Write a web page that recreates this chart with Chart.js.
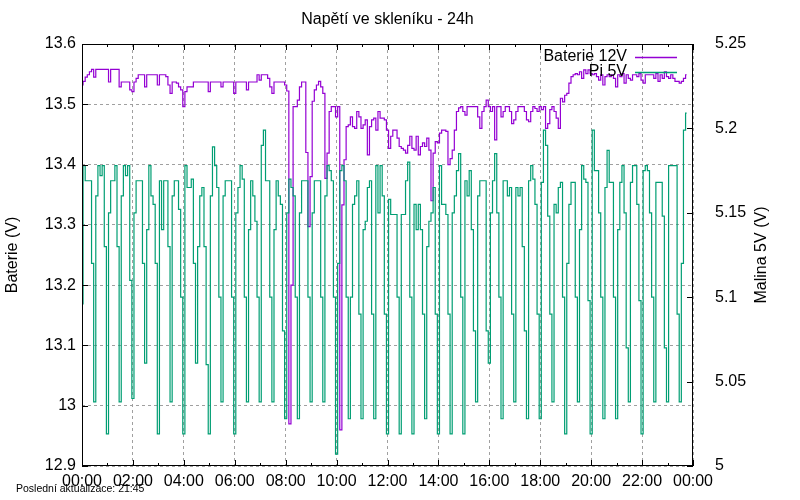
<!DOCTYPE html>
<html>
<head>
<meta charset="utf-8">
<script src="https://cdn.jsdelivr.net/npm/chart.js@4"></script>
<style>
  html, body { margin: 0; padding: 0; background: #fff; }
  #wrap { width: 800px; height: 500px; }
</style>
</head>
<body>
<div id="wrap"><canvas id="chart" width="800" height="500"></canvas></div>
<script>
// samples every 5 minutes, 00:00 .. 23:45
const STEP_MIN = 5;

// Baterie 12V (left axis), one row per hour
const baterie = [
    13.532, 13.538, 13.545, 13.549, 13.554, 13.558, 13.545, 13.558, 13.558, 13.558, 13.558, 13.558,
    13.558, 13.537, 13.558, 13.558, 13.558, 13.558, 13.529, 13.537, 13.537, 13.537, 13.537, 13.524,
    13.521, 13.537, 13.543, 13.549, 13.549, 13.549, 13.529, 13.549, 13.549, 13.549, 13.549, 13.549,
    13.532, 13.549, 13.549, 13.549, 13.546, 13.532, 13.518, 13.537, 13.537, 13.535, 13.529, 13.524,
    13.496, 13.521, 13.529, 13.529, 13.529, 13.537, 13.537, 13.537, 13.537, 13.537, 13.537, 13.537,
    13.521, 13.537, 13.537, 13.537, 13.537, 13.537, 13.529, 13.537, 13.537, 13.537, 13.537, 13.537,
    13.518, 13.537, 13.537, 13.537, 13.537, 13.537, 13.524, 13.537, 13.537, 13.537, 13.537, 13.549,
    13.540, 13.549, 13.549, 13.549, 13.543, 13.529, 13.518, 13.537, 13.537, 13.537, 13.537, 13.537,
    13.532, 13.522, 12.970, 13.200, 13.496, 13.496, 13.507, 13.529, 13.537, 13.537, 13.420, 13.297,
    13.380, 13.505, 13.524, 13.532, 13.538, 13.529, 13.518, 13.377, 13.419, 13.488, 13.496, 13.496,
    13.479, 13.496, 12.960, 13.333, 13.408, 13.463, 13.466, 13.479, 13.463, 13.460, 13.488, 13.479,
    13.460, 13.466, 13.474, 13.416, 13.463, 13.474, 13.477, 13.457, 13.488, 13.477, 13.477, 13.474,
    13.457, 13.427, 13.447, 13.457, 13.457, 13.444, 13.430, 13.427, 13.424, 13.419, 13.432, 13.447,
    13.427, 13.424, 13.447, 13.416, 13.430, 13.436, 13.430, 13.444, 13.424, 13.340, 13.419, 13.438,
    13.436, 13.452, 13.457, 13.457, 13.455, 13.400, 13.410, 13.424, 13.457, 13.488, 13.494, 13.496,
    13.488, 13.482, 13.496, 13.496, 13.496, 13.496, 13.496, 13.479, 13.460, 13.488, 13.496, 13.507,
    13.496, 13.488, 13.496, 13.441, 13.496, 13.496, 13.479, 13.488, 13.496, 13.496, 13.488, 13.468,
    13.474, 13.488, 13.496, 13.496, 13.496, 13.488, 13.474, 13.471, 13.488, 13.496, 13.493, 13.488,
    13.496, 13.491, 13.496, 13.460, 13.468, 13.491, 13.496, 13.488, 13.477, 13.460, 13.510, 13.504,
    13.515, 13.518, 13.535, 13.546, 13.549, 13.551, 13.549, 13.554, 13.543, 13.557, 13.551, 13.557,
    13.551, 13.549, 13.551, 13.546, 13.540, 13.549, 13.532, 13.546, 13.549, 13.546, 13.549, 13.543,
    13.529, 13.549, 13.546, 13.551, 13.535, 13.549, 13.543, 13.540, 13.549, 13.549, 13.546, 13.551,
    13.540, 13.535, 13.549, 13.549, 13.549, 13.549, 13.543, 13.551, 13.538, 13.549, 13.543, 13.554,
    13.546, 13.543, 13.549, 13.543, 13.538, 13.538, 13.535, 13.538, 13.543, 13.549
];

// Pi 5V (right axis), one row per hour
const pi5v = [
    5.096, 5.178, 5.169, 5.169, 5.169, 5.120, 5.038, 5.160, 5.178, 5.172, 5.178, 5.130,
    5.019, 5.150, 5.169, 5.169, 5.178, 5.130, 5.038, 5.160, 5.178, 5.172, 5.178, 5.110,
    5.040, 5.150, 5.169, 5.169, 5.169, 5.120, 5.061, 5.140, 5.178, 5.160, 5.155, 5.120,
    5.019, 5.169, 5.140, 5.169, 5.169, 5.130, 5.038, 5.160, 5.169, 5.169, 5.152, 5.100,
    5.019, 5.178, 5.165, 5.165, 5.170, 5.120, 5.061, 5.130, 5.160, 5.165, 5.130, 5.060,
    5.019, 5.160, 5.189, 5.178, 5.165, 5.100, 5.038, 5.160, 5.169, 5.169, 5.169, 5.100,
    5.019, 5.150, 5.165, 5.178, 5.170, 5.100, 5.038, 5.140, 5.169, 5.160, 5.145, 5.100,
    5.038, 5.190, 5.199, 5.169, 5.169, 5.100, 5.038, 5.140, 5.169, 5.160, 5.155, 5.080,
    5.028, 5.150, 5.170, 5.165, 5.160, 5.100, 5.028, 5.150, 5.169, 5.169, 5.169, 5.100,
    5.038, 5.150, 5.169, 5.169, 5.169, 5.100, 5.038, 5.160, 5.178, 5.175, 5.169, 5.100,
    5.007, 5.120, 5.175, 5.178, 5.169, 5.100, 5.028, 5.100, 5.155, 5.160, 5.169, 5.090,
    5.028, 5.140, 5.145, 5.165, 5.169, 5.090, 5.028, 5.178, 5.150, 5.178, 5.160, 5.090,
    5.019, 5.158, 5.149, 5.149, 5.149, 5.100, 5.019, 5.149, 5.149, 5.169, 5.180, 5.100,
    5.019, 5.155, 5.140, 5.155, 5.140, 5.090, 5.028, 5.130, 5.145, 5.150, 5.165, 5.090,
    5.019, 5.178, 5.155, 5.155, 5.149, 5.090, 5.019, 5.150, 5.160, 5.175, 5.185, 5.100,
    5.019, 5.169, 5.160, 5.175, 5.140, 5.080, 5.038, 5.160, 5.169, 5.169, 5.169, 5.080,
    5.061, 5.150, 5.169, 5.185, 5.150, 5.100, 5.028, 5.169, 5.169, 5.160, 5.165, 5.090,
    5.038, 5.165, 5.160, 5.165, 5.130, 5.080, 5.028, 5.169, 5.178, 5.170, 5.155, 5.090,
    5.028, 5.168, 5.199, 5.190, 5.148, 5.090, 5.038, 5.155, 5.150, 5.165, 5.168, 5.100,
    5.019, 5.120, 5.155, 5.168, 5.168, 5.100, 5.038, 5.140, 5.178, 5.170, 5.168, 5.098,
    5.019, 5.199, 5.175, 5.175, 5.150, 5.100, 5.028, 5.165, 5.187, 5.168, 5.168, 5.100,
    5.028, 5.140, 5.168, 5.178, 5.150, 5.070, 5.038, 5.168, 5.178, 5.178, 5.155, 5.098,
    5.019, 5.175, 5.178, 5.175, 5.150, 5.100, 5.038, 5.168, 5.168, 5.168, 5.148, 5.070,
    5.038, 5.178, 5.178, 5.178, 5.178, 5.090, 5.038, 5.120, 5.199, 5.209
];

// ticks
const hourTicks = [0, 120, 240, 360, 480, 600, 720, 840, 960, 1080, 1200, 1320, 1440];
const minorTicks = [60, 180, 300, 420, 540, 660, 780, 900, 1020, 1140, 1260, 1380];
const leftTicks = [12.9, 13.0, 13.1, 13.2, 13.3, 13.4, 13.5, 13.6];
const rightTicks = [5.0, 5.05, 5.1, 5.15, 5.2, 5.25];

const FONT = "'Liberation Sans', Arial, sans-serif";
const PURPLE = '#9400d3';
const GREEN = '#009e73';

const toPoints = arr => arr.map((v, i) => ({ x: i * STEP_MIN, y: v }));
const fmt = v => String(+v.toFixed(2));
const hhmm = v => String((v / 60) % 24).padStart(2, '0') + ':00';

// gnuplot-ish frame: border, inward ticks, title, axis labels, legend, footer
const gnuFrame = {
    id: 'gnuFrame',
    afterDatasetsDraw(chart) {
        const { ctx, chartArea: a, scales } = chart;
        const x = scales.x, yl = scales.y, yr = scales.y2;
        ctx.save();
        ctx.strokeStyle = '#000';
        ctx.lineWidth = 1;
        ctx.beginPath();
        hourTicks.forEach(t => {
            const px = Math.round(x.getPixelForValue(t)) + 0.5;
            ctx.moveTo(px, a.bottom); ctx.lineTo(px, a.bottom - 6);
            ctx.moveTo(px, a.top); ctx.lineTo(px, a.top + 6);
        });
        minorTicks.forEach(t => {
            const px = Math.round(x.getPixelForValue(t)) + 0.5;
            ctx.moveTo(px, a.bottom); ctx.lineTo(px, a.bottom - 3);
            ctx.moveTo(px, a.top); ctx.lineTo(px, a.top + 3);
        });
        leftTicks.forEach(v => {
            const py = Math.round(yl.getPixelForValue(v)) + 0.5;
            ctx.moveTo(a.left, py); ctx.lineTo(a.left + 6, py);
        });
        rightTicks.forEach(v => {
            const py = Math.round(yr.getPixelForValue(v)) + 0.5;
            ctx.moveTo(a.right, py); ctx.lineTo(a.right - 6, py);
        });
        ctx.stroke();
        ctx.strokeRect(a.left + 0.5, a.top + 0.5, a.right - a.left - 1, a.bottom - a.top - 1);

        ctx.fillStyle = '#000';
        ctx.font = '16px ' + FONT;
        ctx.textBaseline = 'middle';
        ctx.textAlign = 'center';
        ctx.fillText('Napětí ve skleníku - 24h', (a.left + a.right) / 2, 20);

        ctx.save();
        ctx.translate(13, (a.top + a.bottom) / 2);
        ctx.rotate(-Math.PI / 2);
        ctx.fillText('Baterie (V)', 0, 0);
        ctx.restore();
        ctx.save();
        ctx.translate(762, (a.top + a.bottom) / 2);
        ctx.rotate(-Math.PI / 2);
        ctx.fillText('Malina 5V (V)', 0, 0);
        ctx.restore();

        // legend
        const rows = [['Baterie 12V', PURPLE, 57], ['Pi 5V', GREEN, 72]];
        ctx.textAlign = 'right';
        ctx.lineWidth = 1.3;
        rows.forEach(([label, color, y]) => {
            ctx.fillStyle = '#000';
            ctx.fillText(label, 627, y);
            ctx.strokeStyle = color;
            ctx.beginPath();
            ctx.moveTo(635, y + 0.5); ctx.lineTo(677, y + 0.5);
            ctx.stroke();
        });

        ctx.fillStyle = '#000';
        ctx.textAlign = 'left';
        ctx.font = '10.5px ' + FONT;
        ctx.fillText('Poslední aktualizace: 21:45', 16, 489);
        ctx.restore();
    }
};

new Chart(document.getElementById('chart'), {
    type: 'line',
    data: {
        datasets: [
            {
                label: 'Baterie 12V', data: toPoints(baterie), yAxisID: 'y',
                borderColor: PURPLE, borderWidth: 1.2, pointRadius: 0, stepped: 'middle', order: 1
            },
            {
                label: 'Pi 5V', data: toPoints(pi5v), yAxisID: 'y2',
                borderColor: GREEN, borderWidth: 1.2, pointRadius: 0, stepped: 'middle', order: 0
            }
        ]
    },
    options: {
        responsive: false, animation: false, devicePixelRatio: 1,
        layout: { padding: { top: 44, left: 0, right: 0, bottom: 0 } },
        scales: {
            x: {
                type: 'linear', min: 0, max: 1440,
                afterFit: s => { s.height = 34; },
                afterBuildTicks: s => { s.ticks = hourTicks.map(v => ({ value: v })); },
                grid: { color: '#a0a0a0', drawTicks: false },
                border: { display: false, dash: [3, 3] },
                ticks: { callback: hhmm, autoSkip: false, maxRotation: 0, padding: 6, color: '#000', font: { size: 16, family: FONT } }
            },
            y: {
                position: 'left', min: 12.9, max: 13.6,
                afterFit: s => { s.width = 82; },
                afterBuildTicks: s => { s.ticks = leftTicks.map(v => ({ value: v })); },
                grid: { color: '#a0a0a0', drawTicks: false },
                border: { display: false, dash: [3, 3] },
                ticks: { callback: fmt, padding: 6, color: '#000', font: { size: 16, family: FONT } }
            },
            y2: {
                position: 'right', min: 5.0, max: 5.25,
                afterFit: s => { s.width = 107; },
                afterBuildTicks: s => { s.ticks = rightTicks.map(v => ({ value: v })); },
                grid: { display: false },
                border: { display: false },
                ticks: { callback: fmt, padding: 14, color: '#000', font: { size: 16, family: FONT } }
            }
        },
        plugins: { legend: { display: false }, tooltip: { enabled: false } }
    },
    plugins: [gnuFrame]
});
</script>
</body>
</html>
